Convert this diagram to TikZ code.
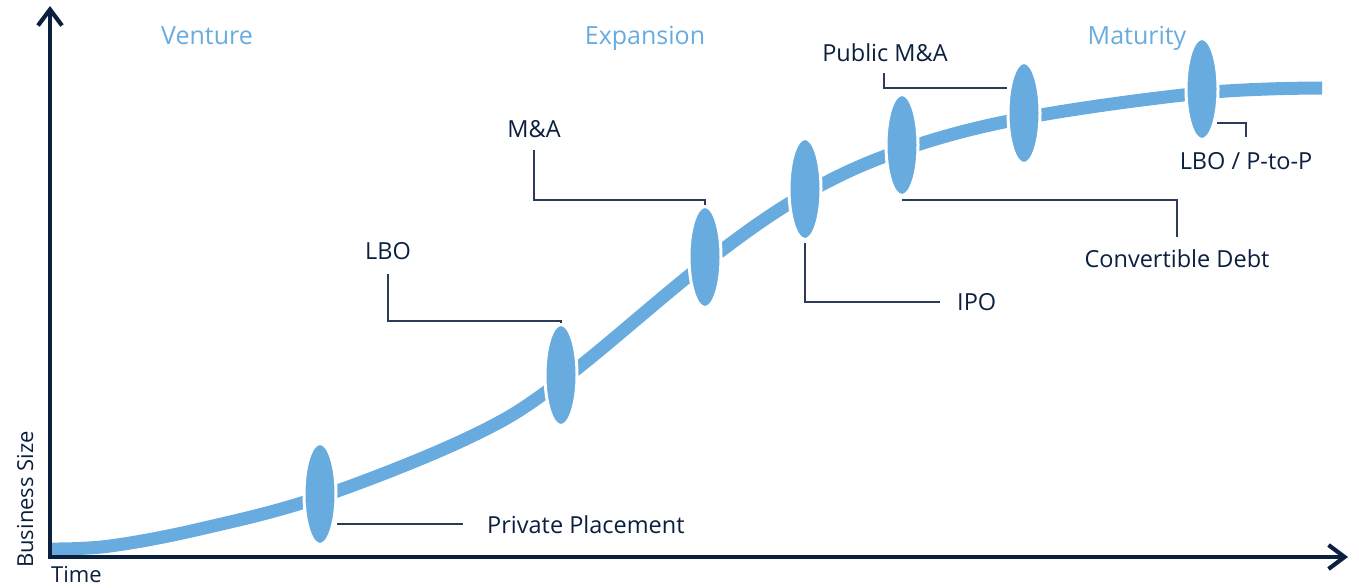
\documentclass[tikz,border=0pt]{standalone}
\usepackage{fontspec}
\setmainfont{Open Sans}
\usetikzlibrary{arrows.meta,shapes.geometric}
\definecolor{navy}{HTML}{0B1F3F}
\definecolor{lblue}{HTML}{68ACDF}
\definecolor{leadc}{HTML}{2B3B58}
\begin{document}
\begin{tikzpicture}[x=1pt,y=-1pt,
  axis/.style={draw=navy, line width=4.2pt, {Straight Barb[length=16pt,width=24pt]}-{Straight Barb[length=16pt,width=24pt]}},
  growth/.style={draw=lblue, line width=13pt},
  event/.style={ellipse, fill=lblue, draw=white, line width=3pt, minimum width=32pt, minimum height=101pt, inner sep=0pt},
  leader/.style={draw=leadc, line width=1.6pt},
  lbl/.style={text=navy, font=\fontsize{23.5}{28}\selectfont, inner sep=0pt},
  phase/.style={text=lblue, font=\fontsize{25}{30}\selectfont, inner sep=0pt},
  axlbl/.style={text=navy, font=\fontsize{22}{26}\selectfont, inner sep=0pt}]
\useasboundingbox (0,0) rectangle (1359,587);

% growth curve
\draw[growth] plot[smooth, tension=0.6] coordinates {(52,549) (110,546) (200,529) (320,497) (470,437) (561,381) (705,263) (805,194) (902,150) (1024,118) (1202,93) (1322,88)};

% events
\node[event] (pp)  at (320,494) {};
\node[event] (lbo) at (561,375) {};
\node[event] (ma)  at (705,257) {};
\node[event] (ipo) at (805,189) {};
\node[event] (cd)  at (902,145) {};
\node[event] (pma) at (1024,113) {};
\node[event] (ptp) at (1202,89) {};

% labels
\node[lbl, anchor=base west] (tpp)  at (487,533) {Private Placement};
\node[lbl, anchor=base]      (tlbo) at (388,259) {LBO};
\node[lbl, anchor=base]      (tma)  at (534,137) {M\&A};
\node[lbl, anchor=base west] (tipo) at (957,310) {IPO};
\node[lbl, anchor=base]      (tcd)  at (1177,267) {Convertible Debt};
\node[lbl, anchor=base]      (tpma) at (885,61) {Public M\&A};
\node[lbl, anchor=base]      (tptp) at (1246,169) {LBO / P-to-P};

\node[phase, anchor=base] (ven) at (207,44) {Venture};
\node[phase, anchor=base] (exp) at (645,44) {Expansion};
\node[phase, anchor=base] (mat) at (1137,44) {Maturity};

% leaders
\coordinate (ppA) at (337,524); \coordinate (ppB) at (463,524);
\draw[leader] (ppA) -- (ppB);
\coordinate (lboA) at (388,274); \coordinate (lboB) at (388,321); \coordinate (lboC) at (561,321);
\draw[leader] (lboA) -- (lboB) -- (lboC) -- (lbo.north);
\coordinate (maA) at (534,150); \coordinate (maB) at (534,200); \coordinate (maC) at (705,200);
\draw[leader] (maA) -- (maB) -- (maC) -- (ma.north);
\coordinate (ipoA) at (805,243); \coordinate (ipoB) at (805,302); \coordinate (ipoC) at (940,302);
\draw[leader] (ipoA) -- (ipoB) -- (ipoC);
\coordinate (cdA) at (902,200); \coordinate (cdB) at (1177,200); \coordinate (cdC) at (1177,237);
\draw[leader] (cdA) -- (cdB) -- (cdC);
\coordinate (pmaA) at (884,73); \coordinate (pmaB) at (884,88); \coordinate (pmaC) at (1007,88);
\draw[leader] (pmaA) -- (pmaB) -- (pmaC);
\coordinate (ptpA) at (1217,123); \coordinate (ptpB) at (1246,123); \coordinate (ptpC) at (1246,137);
\draw[leader] (ptpA) -- (ptpB) -- (ptpC);

% axes
\coordinate (ytip) at (50,6);
\coordinate (origin) at (50,557);
\coordinate (xtip) at (1348,557);
\draw[axis] (ytip) -- (origin) -- (xtip);
\node[axlbl, anchor=base west] (time) at (51,582) {Time};
\node[axlbl, anchor=base west, rotate=90] (size) at (33,568) {Business Size};
\end{tikzpicture}
\end{document}
